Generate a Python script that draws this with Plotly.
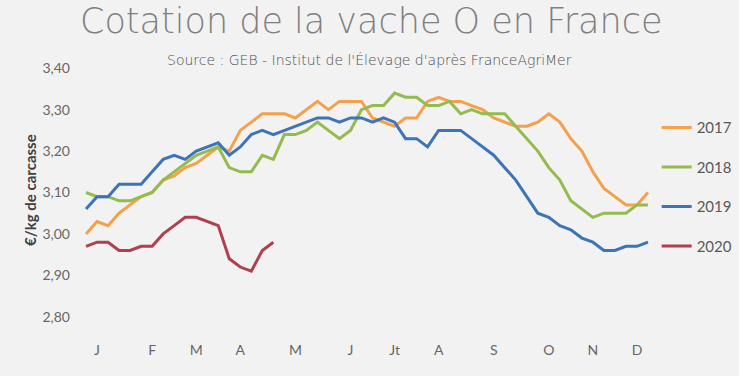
import plotly.graph_objects as go

weeks = list(range(1, 53))

series_names = ["2017", "2018", "2019", "2020"]

values_2017 = [3.00, 3.03, 3.02, 3.05, 3.07, 3.09, 3.10, 3.13, 3.14, 3.16,
               3.17, 3.19, 3.21, 3.20, 3.25, 3.27, 3.29, 3.29, 3.29, 3.28,
               3.30, 3.32, 3.30, 3.32, 3.32, 3.32, 3.28, 3.27, 3.26, 3.28,
               3.28, 3.32, 3.33, 3.32, 3.32, 3.31, 3.30, 3.28, 3.27, 3.26,
               3.26, 3.27, 3.29, 3.27, 3.23, 3.20, 3.15, 3.11, 3.09, 3.07,
               3.07, 3.10]

values_2018 = [3.10, 3.09, 3.09, 3.08, 3.08, 3.09, 3.10, 3.13, 3.15, 3.17,
               3.19, 3.20, 3.21, 3.16, 3.15, 3.15, 3.19, 3.18, 3.24, 3.24,
               3.25, 3.27, 3.25, 3.23, 3.25, 3.30, 3.31, 3.31, 3.34, 3.33,
               3.33, 3.31, 3.31, 3.32, 3.29, 3.30, 3.29, 3.29, 3.29, 3.26,
               3.23, 3.20, 3.16, 3.13, 3.08, 3.06, 3.04, 3.05, 3.05, 3.05,
               3.07, 3.07]

values_2019 = [3.06, 3.09, 3.09, 3.12, 3.12, 3.12, 3.15, 3.18, 3.19, 3.18,
               3.20, 3.21, 3.22, 3.19, 3.21, 3.24, 3.25, 3.24, 3.25, 3.26,
               3.27, 3.28, 3.28, 3.27, 3.28, 3.28, 3.27, 3.28, 3.27, 3.23,
               3.23, 3.21, 3.25, 3.25, 3.25, 3.23, 3.21, 3.19, 3.16, 3.13,
               3.09, 3.05, 3.04, 3.02, 3.01, 2.99, 2.98, 2.96, 2.96, 2.97,
               2.97, 2.98]

values_2020 = [2.97, 2.98, 2.98, 2.96, 2.96, 2.97, 2.97, 3.00, 3.02, 3.04,
               3.04, 3.03, 3.02, 2.94, 2.92, 2.91, 2.96, 2.98]

month_labels = ["J", "F", "M", "A", "M", "J", "Jt", "A", "S", "O", "N", "D"]
month_weeks = [2, 7, 11, 15, 20, 25, 29, 33, 38, 43, 47, 51]

y_ticks = [2.80, 2.90, 3.00, 3.10, 3.20, 3.30, 3.40]

colors = ["#F4A04C", "#93BC4F", "#3D74B8", "#B0404C"]
all_values = [values_2017, values_2018, values_2019, values_2020]

fig = go.Figure()
for name, vals, col in zip(series_names, all_values, colors):
    fig.add_trace(go.Scatter(
        x=weeks[:len(vals)], y=vals, mode="lines", name=name,
        line=dict(color=col, width=3), legendgroup=name,
    ))

W, H = 739, 376
L, T, PW, PH = 75, 60, 584, 265

fig.update_layout(
    width=W, height=H,
    margin=dict(l=L, r=W - L - PW, t=T, b=H - T - PH, autoexpand=False),
    paper_bgcolor="#F2F2F2", plot_bgcolor="#F2F2F2",
    separators=", ",
    font=dict(family="Lato, 'Open Sans', sans-serif", color="#595959", size=13),
    showlegend=True,
    legend=dict(x=0.996, xanchor="left", y=0.807, yanchor="top",
                bgcolor="rgba(0,0,0,0)", tracegroupgap=17,
                font=dict(size=15, color="#595959")),
    xaxis=dict(range=[0, 53], tickmode="array", tickvals=month_weeks,
               ticktext=month_labels, showgrid=False, zeroline=False,
               showline=False, ticks="", ticklabelstandoff=15,
               tickfont=dict(size=14, color="#666666")),
    yaxis=dict(range=[2.78, 3.42], tickmode="array", tickvals=y_ticks,
               tickformat=".2f", showgrid=False, zeroline=False,
               showline=False, ticks="", ticklabelstandoff=4,
               tickfont=dict(size=14, color="#666666")),
    annotations=[
        dict(text="Cotation de la vache O en France", xref="paper", yref="paper",
             x=(371 - L) / PW, y=1 + (T - 21) / PH, xanchor="center", yanchor="middle",
             showarrow=False,
             font=dict(size=35, color="#808080", family="'DejaVu Sans', sans-serif", weight=200)),
        dict(text="Source : GEB - Institut de l'Élevage d'après FranceAgriMer",
             xref="paper", yref="paper",
             x=(369 - L) / PW, y=1, xanchor="center", yanchor="middle",
             showarrow=False,
             font=dict(size=14, color="#505050", family="'DejaVu Sans', sans-serif", weight=300)),
        dict(text="<b>€/kg de carcasse</b>", xref="paper", yref="paper",
             x=-(L - 30) / PW, y=(T + PH - 190) / PH, xanchor="center", yanchor="middle",
             textangle=-90, showarrow=False, font=dict(size=15, color="#404040")),
    ],
)

fig.write_html("out.html", config={"displayModeBar": False},
               post_script="document.body.style.margin='0';")
